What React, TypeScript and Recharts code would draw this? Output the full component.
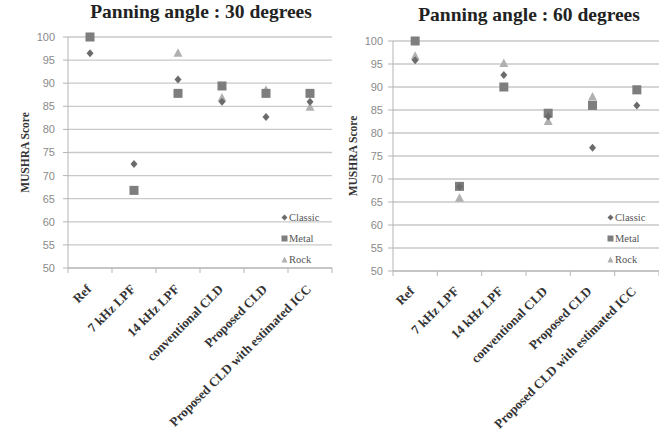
import React from 'react'
import { ScatterChart, Scatter, XAxis, YAxis, CartesianGrid } from 'recharts'

// test conditions along the x axis
const categories = [
  'Ref',
  '7 kHz LPF',
  '14 kHz LPF',
  'conventional CLD',
  'Proposed CLD',
  'Proposed CLD with estimated ICC',
]

// MUSHRA scores, panning angle 30 degrees
const classic30 = [96.5, 72.5, 90.8, 86.0, 82.7, 86.0]
const metal30 = [100, 66.8, 87.8, 89.4, 87.8, 87.8]
const rock30 = [100, 66.8, 96.5, 86.8, 88.5, 84.8]

// MUSHRA scores, panning angle 60 degrees
const classic60 = [95.8, 68.3, 92.6, 83.6, 76.8, 86.0]
const metal60 = [100, 68.4, 90.0, 84.3, 86.0, 89.4]
const rock60 = [96.7, 65.8, 95.1, 82.5, 87.8, 89.2]

const yTicks = [50, 55, 60, 65, 70, 75, 80, 85, 90, 95, 100]
const xTicks = [0, 1, 2, 3, 4, 5, 6]

const CLASSIC = '#6b6b6b'
const METAL = '#7e7e7e'
const ROCK = '#b0b0b0'
const SERIF = '"Liberation Serif", "Times New Roman", serif'
const SANS = '"Liberation Sans", Arial, sans-serif'

const toPoints = (values: number[]) => values.map((v, i) => ({ x: i + 0.5, y: v }))

const Diamond = (p: any) => (
  <polygon
    points={`${p.cx},${p.cy - 4} ${p.cx + 3.5},${p.cy} ${p.cx},${p.cy + 4} ${p.cx - 3.5},${p.cy}`}
    fill={CLASSIC}
  />
)
const Square = (p: any) => <rect x={p.cx - 4.5} y={p.cy - 4.5} width={9} height={9} fill={METAL} />
const Triangle = (p: any) => (
  <polygon
    points={`${p.cx},${p.cy - 5} ${p.cx + 4.5},${p.cy + 3.5} ${p.cx - 4.5},${p.cy + 3.5}`}
    fill={ROCK}
  />
)

const legendItems = [
  { name: 'Classic', color: CLASSIC, mark: 'diamond' },
  { name: 'Metal', color: METAL, mark: 'square' },
  { name: 'Rock', color: ROCK, mark: 'triangle' },
]

function LegendBox({ left, top }: { left: number; top: number }) {
  return (
    <div style={{ position: 'absolute', left, top, fontFamily: SERIF, fontSize: 10.5, color: '#555' }}>
      {legendItems.map((it) => (
        <div key={it.name} style={{ height: 21, display: 'flex', alignItems: 'center' }}>
          <svg width={7} height={7} style={{ marginRight: 1 }}>
            {it.mark === 'diamond' && <polygon points="3.5,0.5 6.5,3.5 3.5,6.5 0.5,3.5" fill={it.color} />}
            {it.mark === 'square' && <rect x={0.5} y={0.5} width={6} height={6} fill={it.color} />}
            {it.mark === 'triangle' && <polygon points="3.5,0.5 6.5,6.5 0.5,6.5" fill={it.color} />}
          </svg>
          <span>{it.name}</span>
        </div>
      ))}
    </div>
  )
}

function makeTick(band: number, dx: number, dy: number) {
  return (props: any) => {
    const { x, y, payload } = props
    const i = payload.value
    if (i >= categories.length) return <g />
    const ax = x + band / 2 + dx
    const ay = y + dy
    return (
      <text
        x={ax}
        y={ay}
        transform={`rotate(-45, ${ax}, ${ay})`}
        textAnchor="end"
        fontFamily={SERIF}
        fontWeight="bold"
        fontSize={13}
        fill="#333"
      >
        {categories[i]}
      </text>
    )
  }
}

interface PanelProps {
  title: string
  left: number
  width: number
  top: number
  yAxisWidth: number
  xAxisHeight: number
  classic: number[]
  metal: number[]
  rock: number[]
  titleX: number
  titleY: number
  labelOffset: number
  legendLeft: number
  tickDx: number
  tickDy: number
}

function Panel(p: PanelProps) {
  const right = p.left === 0 ? 3 : 0
  const plotW = p.width - p.yAxisWidth - right
  const band = plotW / categories.length
  return (
    <div style={{ position: 'absolute', left: p.left, top: 0, width: p.width, height: 438 }}>
      <div
        style={{
          position: 'absolute',
          left: p.titleX - p.left - 150,
          width: 300,
          top: p.titleY,
          lineHeight: '22px',
          textAlign: 'center',
          fontFamily: SERIF,
          fontWeight: 'bold',
          fontSize: 19.5,
          color: '#222',
        }}
      >
        {p.title}
      </div>
      <ScatterChart
        width={p.width}
        height={438}
        margin={{ top: p.top, right, bottom: 10, left: 0 }}
      >
        <CartesianGrid vertical={false} stroke="#c9c9c9" strokeWidth={1.3} />
        <XAxis
          type="number"
          dataKey="x"
          domain={[0, 6]}
          ticks={xTicks}
          interval={0}
          height={p.xAxisHeight}
          axisLine={{ stroke: '#b5b5b5' }}
          tickLine={{ stroke: '#b5b5b5' }}
          tickSize={5}
          tick={makeTick(band, p.tickDx, p.tickDy)}
        />
        <YAxis
          type="number"
          dataKey="y"
          domain={[50, 100]}
          ticks={yTicks}
          interval={0}
          width={p.yAxisWidth}
          axisLine={{ stroke: '#b5b5b5' }}
          tickLine={{ stroke: '#b5b5b5' }}
          tickSize={5}
          tickMargin={p.left === 0 ? 8 : 5}
          tick={{ fill: '#8a8a8a', fontSize: 11, fontFamily: SANS }}
          label={{
            value: 'MUSHRA  Score',
            angle: -90,
            position: 'insideLeft',
            offset: p.labelOffset,
            style: { textAnchor: 'middle', fontFamily: SERIF, fontWeight: 'bold', fontSize: 11.5, fill: '#333' },
          }}
        />
        <Scatter name="Rock" data={toPoints(p.rock)} shape={Triangle} isAnimationActive={false} />
        <Scatter name="Metal" data={toPoints(p.metal)} shape={Square} isAnimationActive={false} />
        <Scatter name="Classic" data={toPoints(p.classic)} shape={Diamond} isAnimationActive={false} />
      </ScatterChart>
      <LegendBox left={p.legendLeft - p.left} top={207} />
    </div>
  )
}

export default function App() {
  return (
    <div style={{ position: 'absolute', left: 0, top: 0, width: 659, height: 438, background: '#fff' }}>
      <Panel
        title="Panning angle : 30 degrees"
        left={0}
        width={335}
        top={37}
        yAxisWidth={68}
        xAxisHeight={160}
        classic={classic30}
        metal={metal30}
        rock={rock30}
        titleX={201}
        titleY={1}
        labelOffset={25}
        legendLeft={281}
        tickDx={2}
        tickDy={15}
      />
      <Panel
        title="Panning angle : 60 degrees"
        left={330}
        width={329}
        top={41}
        yAxisWidth={63}
        xAxisHeight={157}
        classic={classic60}
        metal={metal60}
        rock={rock60}
        titleX={529}
        titleY={4}
        labelOffset={23}
        legendLeft={607}
        tickDx={0}
        tickDy={14}
      />
    </div>
  )
}
